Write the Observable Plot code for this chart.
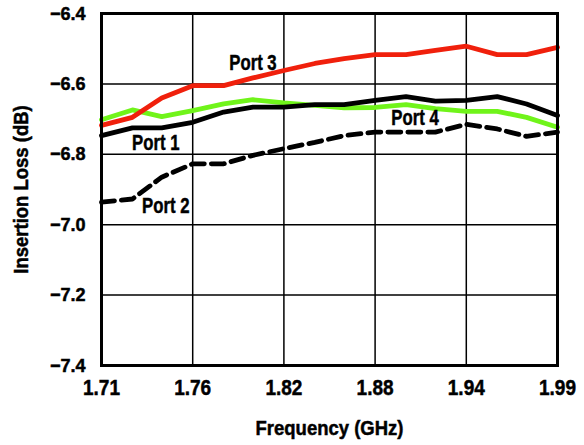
<!DOCTYPE html>
<html><head><meta charset="utf-8">
<script src="https://cdn.jsdelivr.net/npm/d3@7"></script>
<script src="https://cdn.jsdelivr.net/npm/@observablehq/plot@0.6"></script>
<style>
body{margin:0;background:#fff}
svg{font-family:"Liberation Sans",Arial,sans-serif;font-weight:bold}
svg text{stroke:black;stroke-width:0.5px;paint-order:stroke}
</style>
</head><body><div id="chart"></div><script>
const freq = [1.710,1.729,1.747,1.766,1.785,1.803,1.822,1.841,1.859,1.878,1.897,1.915,1.934,1.953,1.971,1.990];
const port1 = [-6.747,-6.725,-6.725,-6.709,-6.680,-6.666,-6.666,-6.659,-6.659,-6.647,-6.636,-6.649,-6.647,-6.636,-6.657,-6.690];
const port2 = [-6.936,-6.927,-6.865,-6.827,-6.827,-6.803,-6.784,-6.766,-6.747,-6.737,-6.737,-6.737,-6.715,-6.728,-6.749,-6.737];
const port3 = [-6.718,-6.695,-6.640,-6.605,-6.605,-6.583,-6.562,-6.542,-6.528,-6.517,-6.517,-6.505,-6.493,-6.517,-6.517,-6.496];
const port4 = [-6.702,-6.674,-6.693,-6.676,-6.657,-6.645,-6.654,-6.661,-6.668,-6.667,-6.659,-6.670,-6.678,-6.678,-6.695,-6.723];
const xTicks = [1.71,1.766,1.822,1.878,1.934,1.99];
const xTickLabels = ["1.71","1.76","1.82","1.88","1.94","1.99"];
const yTicks = [-7.4,-7.2,-7.0,-6.8,-6.6,-6.4];

const rows = (vals, name) => vals.map((v,i)=>({f:freq[i], v, name}));
const s1 = rows(port1,"Port 1"), s2 = rows(port2,"Port 2"), s3 = rows(port3,"Port 3"), s4 = rows(port4,"Port 4");
const labels = [
  {...s3[5], dx:0, dy:-15},
  {...s1[2], dx:-6, dy:15},
  {...s2[2], dx:4, dy:29},
  {...s4[10], dx:9, dy:13}
];

const chart = Plot.plot({
  width:584, height:445,
  marginLeft:101, marginRight:27, marginTop:13, marginBottom:80,
  x:{domain:[1.71,1.99]},
  y:{domain:[-7.4,-6.4]},
  marks:[
    Plot.gridX(xTicks,{stroke:"black",strokeOpacity:1,strokeWidth:1.5}),
    Plot.gridY(yTicks,{stroke:"black",strokeOpacity:1,strokeWidth:1.5}),
    Plot.line(s4,{x:"f",y:"v",stroke:"#70f41a",strokeWidth:4.8}),
    Plot.line(s3,{x:"f",y:"v",stroke:"#f0200c",strokeWidth:4.8}),
    Plot.line(s1,{x:"f",y:"v",stroke:"black",strokeWidth:4.8}),
    Plot.line(s2,{x:"f",y:"v",stroke:"black",strokeWidth:4.8,strokeDasharray:"13,7"}),
    Plot.frame({stroke:"black",strokeWidth:3}),
    Plot.axisX(xTicks,{tickSize:0,tickPadding:14,fontSize:22.5,fontWeight:"bold",label:null,
      tickFormat:d=>xTickLabels[xTicks.indexOf(d)]}),
    Plot.axisY(yTicks,{tickSize:0,tickPadding:16,fontSize:19,fontWeight:"bold",label:null,
      tickFormat:d3.format(".1f")}),
    ...labels.map(l=>Plot.text([l],{x:"f",y:"v",text:"name",dx:l.dx,dy:l.dy,fontSize:22,fontWeight:"bold",fill:"black"})),
    Plot.text(["Frequency (GHz)"],{frameAnchor:"bottom",lineAnchor:"middle",dy:63,text:d=>d,fontSize:21,fontWeight:"bold"}),
    Plot.text(["Insertion Loss (dB)"],{frameAnchor:"left",textAnchor:"middle",lineAnchor:"middle",dx:-80,rotate:-90,text:d=>d,fontSize:21,fontWeight:"bold"})
  ]
});
document.getElementById("chart").appendChild(chart);
// condense glyphs to mimic a condensed bold face
const factors = {"22.5px":0.845, "22px":0.76, "21px":0.88, "19px":0.95};
chart.querySelectorAll("text").forEach(t => {
  const fs = getComputedStyle(t).fontSize;
  const k = factors[fs] || 1;
  const len = t.getComputedTextLength();
  if (len > 0 && k !== 1) {
    t.setAttribute("textLength", (len*k).toFixed(1));
    t.setAttribute("lengthAdjust", "spacingAndGlyphs");
  }
});
</script></body></html>
